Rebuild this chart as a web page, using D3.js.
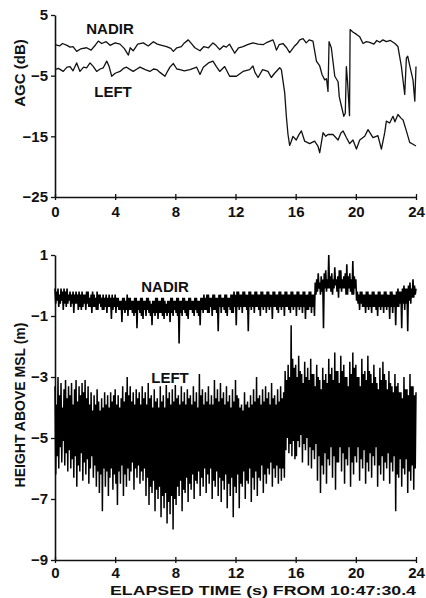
<!DOCTYPE html>
<html><head><meta charset="utf-8">
<script src="https://cdn.jsdelivr.net/npm/d3@7"></script>
<style>
body{margin:0;background:#fff}
text{font-family:"Liberation Sans",Arial,sans-serif;font-weight:bold;fill:#111}
</style>
</head><body>
<svg id="c" width="426" height="598"></svg>
<script>
// ---------- data ----------
const timeTicks = [0, 4, 8, 12, 16, 20, 24];
const agcTicks = [5, -5, -15, -25];
const heightTicks = [1, -1, -3, -5, -7, -9];
const seriesNames = ["NADIR", "LEFT"];

// AGC (dB), top panel: times (s) and values
const agcNadirTime = [0,0.3,0.5,0.8,1.0,1.2,1.44,1.7,2.1,2.4,2.7,2.88,3.1,3.4,3.66,4.0,4.32,4.6,4.88,5.0,5.2,5.5,5.87,6.2,6.54,6.8,7.1,7.42,7.7,7.87,8.1,8.4,8.6,8.86,9.1,9.3,9.64,9.9,10.2,10.5,10.7,10.95,11.2,11.39,11.6,11.95,12.2,12.5,12.8,13.16,13.5,13.83,14.1,14.49,14.6,14.72,14.9,15.16,15.4,15.6,15.9,16.1,16.27,16.49,16.7,16.9,17.15,17.38,17.6,17.75,17.93,18.05,18.15,18.22,18.37,18.6,18.82,18.9,19.04,19.2,19.3,19.37,19.45,19.58,19.62,19.8,20.05,20.26,20.48,20.7,20.92,21.2,21.39,21.59,21.8,22.03,22.3,22.6,22.8,23.03,23.25,23.36,23.45,23.58,23.8,23.92,24.0];
const agcNadir = [0.1,-0.1,0.3,0.0,-0.3,-0.2,-1.0,-0.6,-0.4,-0.8,0.1,0.7,0.3,0.6,0.0,0.4,0.2,-0.5,-1.6,-0.4,-0.9,0.2,0.4,-0.1,0.6,0.2,0.0,-0.2,-0.5,-1.0,-0.4,-0.2,0.4,0.9,0.2,-0.4,-0.9,-0.2,-0.4,0.4,0.0,-0.7,-0.1,-0.3,0.2,-1.3,-0.4,-0.2,0.1,0.4,0.2,0.1,0.5,0.9,0.2,-0.8,0.1,0.3,-0.4,-1.2,-0.2,0.3,0.9,1.1,0.4,0.9,0.7,-2.6,-3.4,-4.8,-5.7,-5.5,-7.6,0.6,-0.4,-5.1,-6.0,-8.5,-10.0,-11.7,-11.2,-3.5,-6.0,-11.6,2.6,2.2,1.8,1.4,0.3,0.6,0.5,0.2,0.8,0.5,0.9,0.6,0.8,0.3,-0.2,-3.5,-8.1,-2.1,-1.8,-3.3,-5.7,-9.2,-3.5];
const agcLeftTime = [0,0.22,0.55,0.8,1.0,1.2,1.44,1.66,1.9,2.1,2.33,2.55,2.77,3.0,3.21,3.44,3.6,3.77,4.0,4.32,4.55,4.76,5.0,5.2,5.45,5.65,6.0,6.31,6.55,6.76,7.0,7.31,7.5,7.64,7.87,8.1,8.31,8.6,8.97,9.2,9.42,9.64,9.86,10.2,10.5,10.73,10.95,11.28,11.61,12.06,12.5,12.94,13.16,13.3,13.5,13.8,14.16,14.38,14.6,14.94,15.05,15.27,15.38,15.49,15.6,15.71,15.82,16.04,16.2,16.38,16.6,16.93,17.26,17.48,17.6,17.82,18.0,18.15,18.48,18.82,19.0,19.15,19.37,19.59,19.81,20.04,20.26,20.59,20.81,21.14,21.47,21.7,21.92,22.03,22.25,22.47,22.6,22.8,23.0,23.14,23.36,23.58,23.8,24.0];
const agcLeft = [-4.0,-3.8,-4.3,-3.6,-3.5,-4.2,-2.9,-4.3,-3.6,-3.7,-2.9,-3.5,-4.3,-3.9,-3.7,-2.6,-3.5,-5.1,-4.6,-4.3,-3.8,-3.6,-4.0,-4.3,-3.9,-3.6,-4.0,-4.3,-3.9,-4.0,-4.5,-5.1,-4.2,-3.6,-3.0,-3.9,-4.0,-4.2,-4.0,-3.8,-3.6,-4.8,-3.6,-2.9,-2.6,-3.5,-4.3,-3.5,-5.1,-5.1,-4.3,-4.0,-3.4,-4.5,-5.3,-4.0,-4.3,-5.3,-4.6,-3.7,-4.0,-7.8,-11.7,-14.7,-16.5,-15.8,-15.0,-15.6,-14.8,-14.1,-15.8,-16.2,-15.8,-16.6,-17.7,-14.4,-15.0,-14.7,-14.7,-15.6,-14.5,-14.1,-15.2,-16.2,-15.6,-17.1,-15.6,-15.0,-13.9,-15.2,-14.9,-17.1,-14.4,-12.5,-12.8,-11.7,-12.6,-11.4,-12.0,-12.3,-14.1,-16.0,-16.3,-16.6];

// Height above MSL (m), bottom panel: samples every 0.05 s from 0 to 24 s
const heightStep = 0.05;
const heightNadir = [
-0.1,-0.6,-0.2,-0.5,-0.1,-0.7,-0.3,-0.6,-0.1,-0.5,-0.2,-0.8,-0.1,-0.6,-0.2,-0.7,-0.1,-0.6,-0.3,-0.5,
-0.2,-0.7,-0.3,-0.6,-0.2,-0.9,-0.3,-0.6,-0.2,-0.6,-0.3,-0.8,-0.2,-0.7,-0.3,-0.8,-0.2,-0.7,-0.3,-0.6,
-0.3,-0.8,-0.2,-0.6,-0.2,-0.7,-0.4,-0.7,-0.3,-0.9,-0.2,-0.7,-0.3,-0.7,-0.4,-0.8,-0.2,-0.8,-0.3,-0.6,
-0.3,-0.7,-0.4,-0.8,-0.3,-0.8,-0.4,-0.7,-0.3,-0.9,-0.4,-0.7,-0.3,-0.7,-0.4,-1.1,-0.3,-0.8,-0.4,-0.7,
-0.3,-0.9,-0.4,-0.7,-0.4,-0.8,-0.5,-0.8,-0.5,-1.2,-0.4,-0.8,-0.4,-0.9,-0.5,-0.8,-0.3,-1.0,-0.4,-0.8,
-0.4,-0.8,-0.5,-0.9,-0.5,-1.0,-0.4,-0.9,-0.4,-1.4,-0.5,-0.8,-0.5,-0.9,-0.4,-1.0,-0.4,-1.1,-0.5,-0.8,
-0.5,-1.0,-0.4,-0.8,-0.4,-0.9,-0.5,-1.0,-0.6,-1.3,-0.5,-0.9,-0.5,-1.0,-0.4,-0.9,-0.4,-1.1,-0.5,-0.9,
-0.5,-0.9,-0.4,-1.0,-0.4,-1.1,-0.5,-0.9,-0.6,-1.0,-0.5,-0.9,-0.5,-1.2,-0.4,-0.9,-0.4,-1.0,-0.5,-0.8,
-0.5,-0.9,-0.4,-1.0,-0.4,-1.9,-0.5,-0.9,-0.5,-1.0,-0.4,-0.8,-0.4,-0.9,-0.5,-1.0,-0.5,-1.1,-0.4,-0.8,
-0.4,-0.8,-0.5,-0.9,-0.5,-1.0,-0.4,-0.8,-0.4,-0.9,-0.5,-1.0,-0.5,-1.3,-0.4,-0.8,-0.4,-0.9,-0.3,-0.8,
-0.4,-0.8,-0.3,-0.9,-0.3,-0.9,-0.4,-0.7,-0.4,-1.0,-0.3,-0.8,-0.3,-0.8,-0.4,-0.9,-0.4,-1.5,-0.3,-0.7,
-0.3,-0.9,-0.4,-0.7,-0.4,-0.8,-0.3,-0.9,-0.3,-1.0,-0.4,-0.7,-0.4,-0.8,-0.3,-0.9,-0.3,-0.9,-0.2,-0.7,
-0.3,-1.3,-0.2,-0.7,-0.2,-0.8,-0.3,-0.7,-0.3,-0.9,-0.2,-0.7,-0.2,-0.7,-0.3,-0.8,-0.3,-1.5,-0.2,-0.7,
-0.2,-0.8,-0.3,-0.7,-0.3,-0.9,-0.2,-0.7,-0.2,-0.7,-0.3,-0.8,-0.3,-1.0,-0.2,-0.7,-0.2,-0.8,-0.3,-0.7,
-0.3,-0.9,-0.2,-0.7,-0.2,-0.8,-0.3,-0.7,-0.3,-1.1,-0.2,-0.7,-0.2,-0.7,-0.3,-0.8,-0.3,-0.9,-0.2,-0.7,
-0.2,-0.8,-0.3,-0.7,-0.3,-1.0,-0.2,-0.7,-0.2,-0.7,-0.3,-0.8,-0.3,-0.9,-0.2,-0.7,-0.2,-0.8,-0.3,-0.7,
-0.3,-1.0,-0.2,-0.7,-0.2,-0.8,-0.3,-0.7,-0.3,-0.9,-0.2,-0.7,-0.2,-1.1,-0.3,-0.8,-0.3,-0.8,-0.2,-0.7,
-0.2,-0.9,-0.3,-0.7,-0.3,-1.0,0.1,-0.3,0.2,-0.2,0.4,-0.1,0.1,-0.3,0.3,-0.2,0.2,-1.4,0.4,-0.1,
0.5,-0.2,0.2,-0.1,1.0,-0.1,0.3,-0.2,0.4,-0.3,0.2,-0.1,0.6,0.0,0.2,-0.2,0.3,-0.4,0.5,-0.1,
0.5,-0.2,0.2,-0.1,0.3,-0.1,0.4,-0.3,0.7,-0.3,0.3,-0.1,0.4,-0.2,0.2,-0.3,0.8,-0.3,0.3,-0.1,
0.2,-0.5,-0.2,-0.6,-0.3,-0.8,-0.2,-0.6,-0.2,-0.7,-0.3,-0.7,-0.3,-0.9,-0.2,-0.7,-0.2,-0.8,-0.3,-0.7,
-0.3,-0.9,-0.2,-0.7,-0.2,-0.7,-0.3,-0.8,-0.3,-1.0,-0.2,-0.7,-0.2,-0.8,-0.3,-0.7,-0.3,-0.9,-0.2,-0.7,
-0.2,-0.8,-0.3,-0.7,-0.3,-1.1,-0.2,-0.7,-0.2,-0.9,-0.3,-0.7,-0.3,-1.3,-0.2,-0.7,-0.1,-0.7,-0.2,-0.6,
-0.2,-1.4,-0.1,-0.6,0.0,-0.8,-0.1,-0.6,-0.1,-1.5,0.0,-0.5,0.1,-0.6,-0.1,-0.4,0.2,-0.4,0.0,-0.3,
-0.1];
const heightLeft = [
-3.3,-6.2,-3.9,-5.6,-3.0,-6.0,-3.6,-5.3,-3.2,-5.8,-4.0,-5.1,-3.4,-5.9,-3.1,-5.5,-3.7,-6.1,-3.3,-5.4,
-3.6,-6.0,-3.2,-5.7,-3.9,-6.3,-3.4,-5.6,-3.1,-6.6,-3.8,-5.9,-3.3,-6.1,-3.6,-5.5,-3.2,-6.4,-3.5,-5.8,
-3.1,-6.2,-3.7,-5.7,-3.3,-6.5,-3.9,-6.0,-3.5,-5.6,-4.1,-6.3,-3.6,-5.9,-3.9,-6.6,-3.4,-6.1,-3.8,-6.8,
-4.1,-6.2,-3.7,-7.4,-4.0,-6.0,-3.5,-6.6,-3.9,-6.1,-3.6,-6.9,-4.0,-6.3,-3.5,-6.0,-3.8,-6.7,-3.6,-6.2,
-3.4,-6.5,-3.9,-7.2,-3.6,-6.1,-4.0,-6.5,-3.7,-5.9,-3.3,-6.9,-3.8,-6.2,-3.5,-6.6,-3.0,-6.0,-3.6,-6.4,
-3.3,-6.1,-3.8,-5.8,-3.5,-6.7,-3.9,-6.0,-3.4,-6.3,-3.7,-5.9,-3.5,-6.5,-3.9,-6.1,-3.3,-6.4,-3.7,-6.0,
-3.5,-6.9,-3.9,-6.3,-3.2,-7.2,-3.7,-6.6,-3.6,-6.8,-4.0,-6.4,-3.4,-7.4,-3.8,-6.7,-3.7,-7.0,-4.0,-6.6,
-3.3,-7.6,-3.8,-6.9,-3.6,-7.3,-4.0,-6.8,-3.0,-7.8,-3.7,-7.1,-3.5,-7.5,-3.9,-6.9,-3.4,-8.0,-3.8,-7.0,
-3.2,-7.2,-3.7,-6.6,-3.6,-6.9,-3.9,-6.4,-3.3,-7.4,-3.8,-6.7,-3.5,-6.8,-3.9,-6.3,-3.4,-7.1,-3.7,-6.5,
-3.6,-6.7,-3.9,-6.2,-3.3,-7.0,-3.8,-6.4,-3.5,-6.5,-4.0,-6.1,-2.9,-6.9,-3.6,-6.3,-3.4,-6.6,-3.9,-6.0,
-3.5,-6.8,-3.8,-6.2,-3.3,-6.5,-3.9,-6.0,-3.6,-7.0,-3.9,-6.4,-3.1,-6.6,-3.7,-6.1,-3.4,-6.9,-3.8,-6.3,
-3.2,-7.1,-3.7,-6.4,-3.5,-6.7,-3.9,-6.2,-3.3,-7.3,-3.8,-6.5,-3.6,-6.9,-4.0,-6.3,-3.4,-7.6,-3.8,-6.6,
-3.1,-6.8,-3.6,-6.2,-3.7,-7.3,-4.0,-6.5,-3.9,-6.6,-4.1,-6.1,-3.5,-7.0,-3.9,-6.4,-3.8,-6.5,-4.0,-6.0,
-3.6,-7.1,-3.9,-6.3,-3.4,-6.7,-3.8,-6.1,-3.0,-6.9,-3.7,-6.3,-3.6,-6.4,-3.9,-5.9,-3.4,-6.8,-3.8,-6.2,
-3.3,-6.5,-3.7,-6.0,-3.5,-6.2,-3.9,-5.8,-3.2,-6.6,-3.7,-6.0,-3.6,-6.3,-3.9,-5.9,-3.4,-6.5,-3.8,-6.0,
-3.3,-6.4,-3.7,-6.0,-3.5,-6.3,-2.8,-5.4,-3.1,-5.0,-2.6,-5.5,-3.0,-5.2,-1.3,-5.6,-2.4,-5.1,-2.7,-5.7,
-2.6,-5.6,-3.0,-5.1,-2.3,-5.3,-2.8,-4.9,-2.9,-5.8,-3.2,-5.2,-2.5,-5.4,-3.0,-5.0,-2.7,-5.9,-3.1,-5.3,
-2.4,-6.0,-2.9,-5.4,-2.9,-5.7,-3.3,-5.2,-2.6,-6.4,-3.0,-5.6,-3.1,-6.8,-3.4,-5.9,-2.7,-6.2,-3.1,-5.5,
-2.9,-6.5,-3.2,-5.7,-2.4,-5.9,-2.9,-5.3,-2.7,-6.3,-3.1,-5.6,-2.2,-6.7,-2.8,-5.8,-2.8,-5.8,-3.2,-5.3,
-2.3,-6.1,-2.8,-5.5,-2.6,-6.5,-3.0,-5.7,-3.0,-5.9,-3.3,-5.3,-2.5,-6.6,-2.9,-5.8,-2.2,-6.2,-2.7,-5.6,
-2.6,-5.8,-3.0,-5.3,-3.0,-6.4,-3.3,-5.7,-2.4,-6.0,-2.9,-5.4,-2.8,-6.5,-3.1,-5.8,-2.3,-6.1,-2.8,-5.5,
-2.9,-6.3,-3.2,-5.6,-2.6,-5.9,-3.0,-5.3,-3.2,-6.6,-3.4,-5.9,-2.7,-6.2,-3.1,-5.6,-2.5,-6.4,-2.9,-5.8,
-3.1,-6.0,-3.4,-5.5,-2.8,-6.5,-3.2,-5.8,-3.3,-6.1,-3.5,-5.6,-2.9,-7.4,-3.3,-6.2,-3.2,-6.3,-3.5,-5.7,
-3.5,-6.6,-3.7,-6.0,-3.0,-6.2,-3.4,-5.7,-3.4,-6.8,-3.6,-6.1,-2.9,-6.4,-3.3,-5.9,-3.3,-6.7,-3.6,-6.0,
-3.5];

// ---------- drawing ----------
const svg = d3.select("#c");
const x = d3.scaleLinear().domain([0, 24]).range([55, 416]);
const yA = d3.scaleLinear().domain([-25, 5]).range([197, 15]);
const yH = d3.scaleLinear().domain([-9, 1]).range([560, 255]);

function drawAxes(y, ticks, yBottom, labelBase) {
  const gx = svg.append("g").attr("transform", `translate(0,${yBottom})`)
    .call(d3.axisBottom(x).tickValues(timeTicks).tickFormat(d3.format("d")).tickSizeOuter(0).tickSizeInner(3));
  gx.select(".domain").attr("stroke", "#111").attr("stroke-width", 1.6);
  gx.selectAll(".tick line").attr("y1", -3).attr("y2", 3).attr("stroke", "#111").attr("stroke-width", 1.3);
  gx.selectAll(".tick text").attr("y", labelBase).attr("dy", 0)
    .style("font-size", "15px").attr("fill", "#111");
  const gy = svg.append("g").attr("transform", "translate(55,0)")
    .call(d3.axisLeft(y).tickValues(ticks).tickFormat(d3.format("d")).tickSizeOuter(0).tickSizeInner(4).tickPadding(3));
  gy.select(".domain").attr("stroke", "#111").attr("stroke-width", 1.6);
  gy.selectAll(".tick line").attr("stroke", "#111").attr("stroke-width", 1.3);
  gy.selectAll(".tick text").style("font-size", "15px").attr("fill", "#111");
}

drawAxes(yA, agcTicks, 197, 20);
drawAxes(yH, heightTicks, 560, 18);

// top panel lines
const agcLine = (T, y) => d3.line().x((d, i) => x(T[i])).y(d => y(d));
svg.append("path").datum(agcNadir).attr("d", agcLine(agcNadirTime, yA))
  .attr("fill", "none").attr("stroke", "#111").attr("stroke-width", 1.3).attr("stroke-linejoin", "round");
svg.append("path").datum(agcLeft).attr("d", agcLine(agcLeftTime, yA))
  .attr("fill", "none").attr("stroke", "#111").attr("stroke-width", 1.3).attr("stroke-linejoin", "round");

// bottom panel lines
const hLine = d3.line().x((d, i) => x(i * heightStep)).y(d => yH(d));
svg.append("path").datum(heightNadir).attr("d", hLine)
  .attr("fill", "none").attr("stroke", "#000").attr("stroke-width", 1.6);
svg.append("path").datum(heightLeft).attr("d", hLine)
  .attr("fill", "none").attr("stroke", "#000").attr("stroke-width", 1.5);

// series labels
function label(txt, cx, base, bg) {
  const t = svg.append("text").attr("x", cx).attr("y", base).attr("text-anchor", "middle")
    .style("font-size", "15px").text(txt);
  if (bg) {
    const b = t.node().getBBox();
    svg.insert("rect", () => t.node()).attr("x", b.x - 2).attr("y", b.y + 1).attr("width", b.width + 4)
      .attr("height", b.height - 2).attr("fill", "#fff");
  }
}
label(seriesNames[0], 110, 34);
label(seriesNames[1], 113, 97);
label(seriesNames[0], 165, 292, true);
label(seriesNames[1], 170, 383, true);

// axis titles
svg.append("text").attr("transform", "translate(25,73) rotate(-90)").attr("text-anchor", "middle")
  .style("font-size", "15px").text("AGC (dB)");
svg.append("text").attr("transform", "translate(25,405) rotate(-90)").attr("text-anchor", "middle")
  .style("font-size", "14px").text("HEIGHT ABOVE MSL (m)");
svg.append("text").attr("x", 110).attr("y", 595)
  .attr("textLength", 306).attr("lengthAdjust", "spacingAndGlyphs")
  .style("font-size", "13.5px").text("ELAPSED TIME (s) FROM 10:47:30.4");
</script>
</body></html>
